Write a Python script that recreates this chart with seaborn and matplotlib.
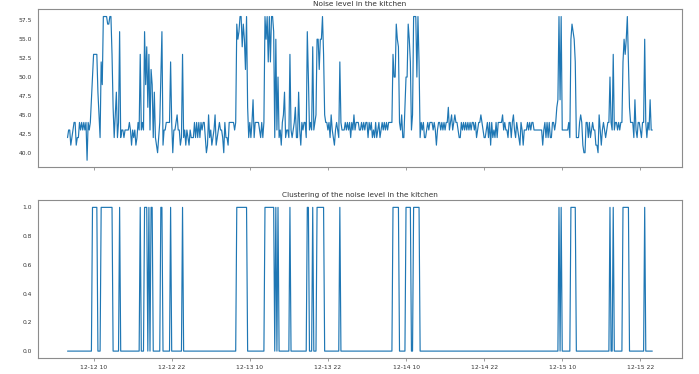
import matplotlib
matplotlib.use("Agg")
import matplotlib.pyplot as plt
import matplotlib.dates as mdates
import matplotlib.ticker as mticker
import seaborn as sns
import pandas as pd
import numpy as np

# ---- data (10-minute samples) ----
START = "2018-12-12 06:00"
FREQ = "10min"

noise = [
    42, 43, 43, 41, 42, 43, 44, 44, 41, 42,
    42, 44, 43, 44, 43, 44, 43, 44, 39, 44,
    43, 44, 47, 50, 53, 53, 53, 53, 48, 45,
    42, 52, 49, 58, 58, 58, 58, 57, 57, 58,
    58, 53, 46, 42, 45, 48, 42, 44, 56, 42,
    43, 43, 42, 43, 43, 43, 43, 44, 43, 41,
    43, 42, 43, 41, 42, 44, 43, 53, 43, 44,
    43, 56, 49, 54, 46, 53, 43, 51, 49, 42,
    48, 42, 41, 40, 42, 44, 50, 56, 41, 43,
    43, 44, 44, 44, 44, 52, 44, 40, 43, 43,
    44, 45, 43, 43, 41, 42, 53, 42, 43, 41,
    43, 42, 41, 43, 42, 42, 42, 44, 42, 44,
    42, 44, 42, 44, 43, 44, 44, 42, 40, 41,
    45, 42, 43, 41, 42, 43, 45, 41, 42, 43,
    44, 43, 43, 42, 40, 44, 42, 42, 41, 44,
    44, 44, 44, 44, 43, 44, 57, 55, 56, 58,
    58, 54, 57, 55, 51, 58, 46, 42, 44, 42,
    44, 47, 42, 44, 44, 44, 44, 43, 42, 44,
    42, 44, 58, 55, 58, 52, 58, 52, 58, 58,
    56, 42, 55, 43, 50, 42, 43, 41, 44, 45,
    48, 42, 43, 43, 42, 53, 43, 42, 43, 44,
    46, 42, 42, 48, 43, 41, 44, 43, 44, 44,
    42, 56, 50, 43, 44, 43, 54, 43, 44, 45,
    55, 55, 51, 55, 55, 58, 53, 45, 44, 44,
    43, 44, 42, 45, 43, 42, 41, 43, 44, 43,
    42, 52, 44, 43, 43, 43, 44, 43, 44, 43,
    44, 42, 44, 43, 45, 43, 44, 44, 44, 43,
    43, 44, 43, 44, 43, 44, 44, 42, 44, 43,
    44, 42, 43, 42, 44, 42, 43, 44, 42, 43,
    44, 43, 44, 43, 44, 43, 44, 44, 44, 44,
    53, 50, 50, 57, 55, 54, 44, 43, 45, 42,
    42, 46, 50, 50, 57, 55, 52, 43, 45, 58,
    58, 58, 50, 58, 52, 42, 44, 43, 44, 42,
    42, 43, 44, 43, 44, 44, 44, 43, 44, 43,
    41, 43, 44, 44, 43, 44, 43, 44, 43, 44,
    44, 46, 43, 44, 45, 43, 44, 45, 44, 44,
    43, 42, 42, 44, 43, 44, 43, 44, 43, 44,
    43, 44, 43, 44, 44, 43, 44, 42, 43, 44,
    44, 45, 44, 43, 42, 42, 43, 44, 42, 44,
    41, 44, 42, 43, 42, 44, 42, 44, 44, 44,
    44, 45, 43, 44, 43, 43, 42, 44, 44, 42,
    44, 45, 43, 42, 44, 43, 42, 41, 44, 43,
    41, 43, 43, 43, 44, 43, 44, 43, 44, 44,
    43, 43, 43, 43, 43, 43, 43, 43, 41, 43,
    44, 42, 44, 42, 44, 42, 42, 44, 44, 43,
    44, 46, 47, 58, 47, 58, 43, 43, 43, 43,
    43, 43, 44, 42, 55, 57, 56, 55, 52, 42,
    42, 42, 44, 45, 44, 41, 40, 40, 44, 44,
    42, 44, 42, 43, 44, 43, 43, 41, 41, 40,
    45, 43, 41, 43, 44, 43, 42, 43, 44, 44,
    50, 44, 43, 53, 43, 44, 44, 43, 44, 43,
    44, 44, 52, 55, 53, 55, 58, 52, 46, 44,
    44, 44, 42, 47, 43, 42, 44, 44, 43, 42,
    44, 44, 55, 44, 42, 44, 43, 47, 43, 43,
]

# boundary between the two clusters
CLUSTER_THRESHOLD = 48.5
cluster = [1 if v > CLUSTER_THRESHOLD else 0 for v in noise]

noise_ticks = [40.0, 42.5, 45.0, 47.5, 50.0, 52.5, 55.0, 57.5]
cluster_ticks = [0.0, 0.2, 0.4, 0.6, 0.8, 1.0]
tick_hours = [10, 22]

times = pd.date_range(START, periods=len(noise), freq=FREQ)
df = pd.DataFrame({"time": times, "noise": noise, "cluster": cluster})

# ---- style ----
sns.set_style("white")
plt.rcParams["font.family"] = ["DejaVu Sans"]
EDGE = "0.55"
TXT = "0.2"

fig, (ax1, ax2) = plt.subplots(2, 1, figsize=(6.99, 3.74), dpi=100, sharex=True)
fig.subplots_adjust(left=0.0548, right=0.975, top=0.975, bottom=0.042, hspace=0.207)

blue = "#1f77b4"
sns.lineplot(data=df, x="time", y="noise", ax=ax1, color=blue, linewidth=0.85)
sns.lineplot(data=df, x="time", y="cluster", ax=ax2, color=blue, linewidth=0.85)

ax1.set_title("Noise level in the kitchen", fontsize=5.3, color=TXT, pad=2.5)
ax2.set_title("Clustering of the noise level in the kitchen", fontsize=5.3, color=TXT, pad=2.5)

ax1.set_yticks(noise_ticks)
ax1.yaxis.set_major_formatter(mticker.FormatStrFormatter("%.1f"))
ax2.set_yticks(cluster_ticks)
ax2.yaxis.set_major_formatter(mticker.FormatStrFormatter("%.1f"))

ax2.xaxis.set_major_locator(mdates.HourLocator(byhour=tick_hours))
ax2.xaxis.set_major_formatter(mdates.DateFormatter("%m-%d %H"))

for ax in (ax1, ax2):
    ax.set_xlabel("")
    ax.set_ylabel("")
    ax.margins(x=0.05, y=0.05)
    for sp in ax.spines.values():
        sp.set_color(EDGE)
        sp.set_linewidth(0.8)
    ax.tick_params(axis="x", length=2.5, width=0.6, color=EDGE, labelsize=4.3,
                   labelcolor=TXT, pad=2, bottom=True)
    ax.tick_params(axis="y", length=0, labelsize=4.3, labelcolor=TXT, pad=4.5)

ax1.tick_params(axis="x", labelbottom=False)

fig.savefig("out.png", dpi=100)
